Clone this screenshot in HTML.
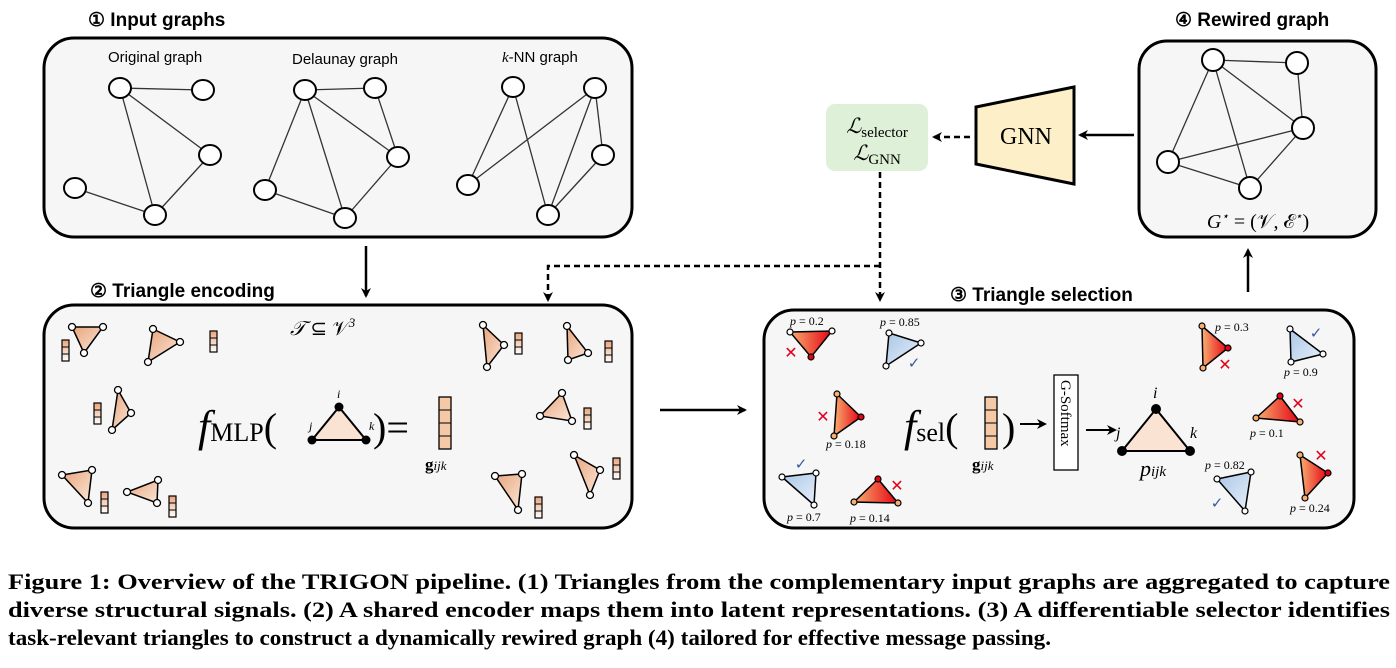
<!DOCTYPE html>
<html><head><meta charset="utf-8"><style>
body{margin:0;background:#fff;width:1396px;height:668px;overflow:hidden}
svg{display:block}
.t{font-family:"Liberation Sans",sans-serif;font-weight:bold;font-size:19px}
.s{font-family:"Liberation Sans",sans-serif;font-size:15px}
.m{font-family:"Liberation Serif",serif}
.cap{font-family:"Liberation Serif",serif;font-weight:bold;font-size:22px}
</style></head><body>
<svg width="1396" height="668" viewBox="0 0 1396 668" xmlns="http://www.w3.org/2000/svg">
<defs>
<linearGradient id="og" x1="0" y1="0" x2="1" y2="1"><stop offset="0" stop-color="#e8a57c"/><stop offset="1" stop-color="#fbe6d8"/></linearGradient>
<linearGradient id="rg" x1="0" y1="0" x2="1" y2="0"><stop offset="0" stop-color="#f7b070"/><stop offset="1" stop-color="#e60012"/></linearGradient>
<linearGradient id="bg" x1="0" y1="0" x2="1" y2="1"><stop offset="0" stop-color="#a9c6e6"/><stop offset="1" stop-color="#e8f0fa"/></linearGradient>
<linearGradient id="barg" x1="0" y1="0" x2="0" y2="1"><stop offset="0" stop-color="#e9a47a"/><stop offset="1" stop-color="#fff"/></linearGradient>
<marker id="ar" markerWidth="10" markerHeight="10" refX="8" refY="5" orient="auto" markerUnits="userSpaceOnUse"><path d="M0,0 L10,5 L0,10 L3,5z" fill="#000"/></marker>
<g id="bar"><rect x="0" y="0" width="7" height="21" fill="url(#barg)" stroke="#000" stroke-width="1.2"/><path d="M0,7 H7 M0,14 H7" stroke="#000" stroke-width="1"/></g>
</defs>
<!-- titles -->
<text x="88" y="26" class="t">① Input graphs</text>
<text x="90" y="297" class="t">② Triangle encoding</text>
<text x="950" y="301" class="t">③ Triangle selection</text>
<text x="1175" y="26" class="t">④ Rewired graph</text>
<!-- boxes -->
<rect x="44" y="38" width="588" height="199" rx="30" fill="#f6f6f6" stroke="#000" stroke-width="3"/>
<rect x="44" y="305" width="588" height="223" rx="30" fill="#f6f6f6" stroke="#000" stroke-width="3"/>
<rect x="764" y="310" width="590" height="218" rx="30" fill="#f6f6f6" stroke="#000" stroke-width="3"/>
<rect x="1139" y="41" width="237" height="196" rx="28" fill="#f6f6f6" stroke="#000" stroke-width="3"/>
<!-- graph 1 -->
<text x="108" y="62" class="s">Original graph</text>
<text x="292" y="64" class="s">Delaunay graph</text>
<text x="502" y="62" class="s"><tspan class="m" font-style="italic">k</tspan>-NN graph</text>
<g stroke="#333" stroke-width="1.3">
<line x1="120" y1="88" x2="203" y2="90"/><line x1="120" y1="88" x2="155" y2="215"/><line x1="120" y1="88" x2="210" y2="155"/><line x1="210" y1="155" x2="155" y2="215"/><line x1="75" y1="188" x2="155" y2="215"/>
<line x1="305" y1="90" x2="375" y2="88"/><line x1="305" y1="90" x2="265" y2="190"/><line x1="305" y1="90" x2="345" y2="218"/><line x1="305" y1="90" x2="398" y2="157"/><line x1="375" y1="88" x2="398" y2="157"/><line x1="398" y1="157" x2="345" y2="218"/><line x1="265" y1="190" x2="345" y2="218"/>
<line x1="513" y1="87" x2="548" y2="215"/><line x1="513" y1="87" x2="468" y2="185"/><line x1="595" y1="88" x2="468" y2="185"/><line x1="595" y1="88" x2="548" y2="215"/><line x1="595" y1="88" x2="603" y2="155"/><line x1="603" y1="155" x2="548" y2="215"/>
<line x1="1213" y1="60" x2="1297" y2="63"/><line x1="1213" y1="60" x2="1168" y2="162"/><line x1="1213" y1="60" x2="1250" y2="188"/><line x1="1213" y1="60" x2="1303" y2="128"/><line x1="1297" y1="63" x2="1303" y2="128"/><line x1="1303" y1="128" x2="1168" y2="162"/><line x1="1303" y1="128" x2="1250" y2="188"/><line x1="1168" y1="162" x2="1250" y2="188"/>
</g>
<g fill="#fff" stroke="#000" stroke-width="2">
<ellipse cx="120" cy="88" rx="11" ry="10"/><ellipse cx="203" cy="90" rx="11" ry="10"/><ellipse cx="210" cy="155" rx="11" ry="10"/><ellipse cx="75" cy="188" rx="11" ry="10"/><ellipse cx="155" cy="215" rx="11" ry="10"/>
<ellipse cx="305" cy="90" rx="11" ry="10"/><ellipse cx="375" cy="88" rx="11" ry="10"/><ellipse cx="398" cy="157" rx="11" ry="10"/><ellipse cx="265" cy="190" rx="11" ry="10"/><ellipse cx="345" cy="218" rx="11" ry="10"/>
<ellipse cx="513" cy="87" rx="11" ry="10"/><ellipse cx="595" cy="88" rx="11" ry="10"/><ellipse cx="603" cy="155" rx="11" ry="10"/><ellipse cx="468" cy="185" rx="11" ry="10"/><ellipse cx="548" cy="215" rx="11" ry="10"/>
<ellipse cx="1213" cy="60" rx="11" ry="11"/><ellipse cx="1297" cy="63" rx="11" ry="11"/><ellipse cx="1303" cy="128" rx="11" ry="11"/><ellipse cx="1168" cy="162" rx="11" ry="11"/><ellipse cx="1250" cy="188" rx="11" ry="11"/>
</g>
<text x="1258" y="228" class="m" font-size="20" text-anchor="middle" font-style="italic">G<tspan font-size="12" dy="-8">⋆</tspan><tspan dy="8" font-style="normal"> = (𝒱, ℰ</tspan><tspan font-size="12" dy="-8">⋆</tspan><tspan dy="8" font-style="normal">)</tspan></text>
<!-- GNN & loss -->
<path d="M976,107 L1074,87 L1074,184 L976,164z" fill="#fdf0c8" stroke="#000" stroke-width="3"/>
<text x="1026" y="144" class="m" font-size="24" text-anchor="middle">GNN</text>
<rect x="826" y="104" width="102" height="67" rx="9" fill="#dff0d8"/>
<text x="877" y="133" class="m" font-size="21" text-anchor="middle"><tspan font-style="italic">ℒ</tspan><tspan font-size="15" dy="4">selector</tspan></text>
<text x="877" y="160" class="m" font-size="21" text-anchor="middle"><tspan font-style="italic">ℒ</tspan><tspan font-size="15" dy="4">GNN</tspan></text>
<!-- arrows -->
<g stroke="#000" stroke-width="2.5" fill="none">
<line x1="1134" y1="135" x2="1080" y2="135" marker-end="url(#ar)"/>
<line x1="970" y1="137" x2="934" y2="137" stroke-dasharray="6,4" marker-end="url(#ar)"/>
<path d="M880,172 L880,300" stroke-dasharray="6,4" marker-end="url(#ar)"/>
<path d="M880,266 L548,266 L548,300" stroke-dasharray="6,4" marker-end="url(#ar)"/>
<line x1="366" y1="246" x2="366" y2="296" marker-end="url(#ar)"/>
<line x1="660" y1="410" x2="745" y2="410" marker-end="url(#ar)"/>
<line x1="1248" y1="292" x2="1248" y2="250" marker-end="url(#ar)"/>
<line x1="1020" y1="424" x2="1045" y2="424" marker-end="url(#ar)" stroke-width="2"/>
<line x1="1086" y1="430" x2="1115" y2="430" marker-end="url(#ar)" stroke-width="2"/>
</g>
<!-- encoding box content -->
<text x="290" y="335" class="m" font-size="20" font-style="italic">𝒯 <tspan font-style="normal">⊆ 𝒱</tspan><tspan font-size="13" dy="-8">3</tspan></text>
<g stroke="#000" stroke-width="1.5" fill="url(#og)">
<path d="M72,327 L103,327 L84,353z"/><path d="M153,329 L180,342 L148,362z"/><path d="M118,390 L131,413 L112,430z"/>
<path d="M62,475 L92,470 L88,503z"/><path d="M127,492 L158,480 L157,503z"/><path d="M483,325 L504,345 L487,367z"/>
<path d="M567,326 L588,353 L568,360z"/><path d="M562,393 L540,416 L572,421z"/><path d="M574,455 L600,470 L590,495z"/>
<path d="M495,476 L522,474 L518,510z"/>
</g>
<g fill="#fff" stroke="#000" stroke-width="1.3">
<circle cx="72" cy="327" r="3.5"/><circle cx="103" cy="327" r="3.5"/><circle cx="84" cy="353" r="3.5"/><circle cx="153" cy="329" r="3.5"/><circle cx="180" cy="342" r="3.5"/><circle cx="148" cy="362" r="3.5"/>
<circle cx="118" cy="390" r="3.5"/><circle cx="131" cy="413" r="3.5"/><circle cx="112" cy="430" r="3.5"/><circle cx="62" cy="475" r="3.5"/><circle cx="92" cy="470" r="3.5"/><circle cx="88" cy="503" r="3.5"/>
<circle cx="127" cy="492" r="3.5"/><circle cx="158" cy="480" r="3.5"/><circle cx="157" cy="503" r="3.5"/><circle cx="483" cy="325" r="3.5"/><circle cx="504" cy="345" r="3.5"/><circle cx="487" cy="367" r="3.5"/>
<circle cx="567" cy="326" r="3.5"/><circle cx="588" cy="353" r="3.5"/><circle cx="568" cy="360" r="3.5"/><circle cx="562" cy="393" r="3.5"/><circle cx="540" cy="416" r="3.5"/><circle cx="572" cy="421" r="3.5"/>
<circle cx="574" cy="455" r="3.5"/><circle cx="600" cy="470" r="3.5"/><circle cx="590" cy="495" r="3.5"/><circle cx="495" cy="476" r="3.5"/><circle cx="522" cy="474" r="3.5"/><circle cx="518" cy="510" r="3.5"/>
</g>
<use href="#bar" x="62" y="340"/><use href="#bar" x="210" y="331"/><use href="#bar" x="94" y="403"/>
<use href="#bar" x="101" y="492"/><use href="#bar" x="169" y="496"/><use href="#bar" x="515" y="333"/>
<use href="#bar" x="605" y="341"/><use href="#bar" x="584" y="408"/><use href="#bar" x="613" y="458"/><use href="#bar" x="535" y="497"/>
<text x="198" y="441" class="m" font-size="44" font-style="italic">f<tspan font-style="normal" font-size="26">MLP</tspan><tspan font-style="normal" font-size="40">(</tspan></text>
<path d="M339,407 L312,440 L366,440z" fill="#fbe3d3" stroke="#000" stroke-width="2"/>
<circle cx="339" cy="407" r="4.5"/><circle cx="312" cy="440" r="4.5"/><circle cx="366" cy="440" r="4.5"/>
<text x="337" y="398" class="m" font-size="12" font-style="italic">i</text><text x="309" y="430" class="m" font-size="12" font-style="italic">j</text><text x="369" y="430" class="m" font-size="12" font-style="italic">k</text>
<text x="373" y="441" class="m" font-size="40">)=</text>
<rect x="439" y="397" width="12" height="52" fill="#f5c8a6" stroke="#000" stroke-width="1.3"/>
<path d="M439,410 H451 M439,423 H451 M439,436 H451" stroke="#000"/>
<text x="425" y="470" class="m" font-size="17" font-weight="bold">g<tspan font-size="13" font-style="italic" font-weight="normal">ijk</tspan></text>
<!-- selection box content -->
<g stroke="#000" stroke-width="1.5">
<path d="M790,332 L832,331 L811,357z" fill="url(#rg)"/>
<path d="M889,333 L921,343 L886,366z" fill="url(#bg)"/>
<path d="M837,394 L861,417 L834,436z" fill="url(#rg)"/>
<path d="M782,477 L816,473 L814,505z" fill="url(#bg)"/>
<path d="M878,479 L898,503 L854,502z" fill="url(#rg)"/>
<path d="M1202,326 L1228,348 L1203,368z" fill="url(#rg)"/>
<path d="M1290,329 L1323,354 L1291,362z" fill="url(#bg)"/>
<path d="M1280,396 L1256,418 L1300,422z" fill="url(#rg)"/>
<path d="M1217,479 L1251,472 L1245,511z" fill="url(#bg)"/>
<path d="M1300,455 L1328,473 L1305,498z" fill="url(#rg)"/>
</g>
<g fill="#fff" stroke="#000" stroke-width="1.2">
<circle cx="790" cy="332" r="3"/><circle cx="832" cy="331" r="3"/><circle cx="811" cy="357" r="3" fill="#e60012"/>
<circle cx="889" cy="333" r="3"/><circle cx="921" cy="343" r="3"/><circle cx="886" cy="366" r="3"/>
<circle cx="837" cy="394" r="3" fill="#f7b070"/><circle cx="861" cy="417" r="3" fill="#e60012"/><circle cx="834" cy="436" r="3" fill="#f7b070"/>
<circle cx="782" cy="477" r="3"/><circle cx="816" cy="473" r="3"/><circle cx="814" cy="505" r="3"/>
<circle cx="878" cy="479" r="3" fill="#e60012"/><circle cx="898" cy="503" r="3" fill="#f7b070"/><circle cx="854" cy="502" r="3" fill="#f7b070"/>
<circle cx="1202" cy="326" r="3" fill="#f7b070"/><circle cx="1228" cy="348" r="3" fill="#e60012"/><circle cx="1203" cy="368" r="3" fill="#f7b070"/>
<circle cx="1290" cy="329" r="3"/><circle cx="1323" cy="354" r="3"/><circle cx="1291" cy="362" r="3"/>
<circle cx="1280" cy="396" r="3" fill="#e60012"/><circle cx="1256" cy="418" r="3" fill="#f7b070"/><circle cx="1300" cy="422" r="3" fill="#f7b070"/>
<circle cx="1217" cy="479" r="3"/><circle cx="1251" cy="472" r="3"/><circle cx="1245" cy="511" r="3"/>
<circle cx="1300" cy="455" r="3" fill="#f7b070"/><circle cx="1328" cy="473" r="3" fill="#e60012"/><circle cx="1305" cy="498" r="3" fill="#f7b070"/>
</g>
<g font-family="Liberation Serif,serif" font-size="12">
<text x="790" y="325"><tspan font-style="italic">p</tspan> = 0.2</text><text x="880" y="326"><tspan font-style="italic">p</tspan> = 0.85</text>
<text x="826" y="448"><tspan font-style="italic">p</tspan> = 0.18</text><text x="787" y="521"><tspan font-style="italic">p</tspan> = 0.7</text>
<text x="850" y="522"><tspan font-style="italic">p</tspan> = 0.14</text><text x="1215" y="331"><tspan font-style="italic">p</tspan> = 0.3</text>
<text x="1284" y="376"><tspan font-style="italic">p</tspan> = 0.9</text><text x="1250" y="437"><tspan font-style="italic">p</tspan> = 0.1</text>
<text x="1205" y="469"><tspan font-style="italic">p</tspan> = 0.82</text><text x="1290" y="512"><tspan font-style="italic">p</tspan> = 0.24</text>
</g>
<g fill="#e0001a" font-family="DejaVu Sans,sans-serif" font-size="16" font-weight="bold" text-anchor="middle">
<text x="791" y="358">✕</text><text x="823" y="422">✕</text><text x="897" y="491">✕</text><text x="1225" y="370">✕</text><text x="1298" y="409">✕</text><text x="1321" y="461">✕</text>
</g>
<g fill="#3a5a9a" font-family="DejaVu Sans,sans-serif" font-size="15" text-anchor="middle">
<text x="914" y="368">✓</text><text x="801" y="469">✓</text><text x="1316" y="338">✓</text><text x="1217" y="508">✓</text>
</g>
<text x="904" y="441" class="m" font-size="44" font-style="italic">f<tspan font-style="normal" font-size="26">sel</tspan><tspan font-style="normal" font-size="40">(</tspan></text>
<rect x="985" y="397" width="12" height="52" fill="#f5c8a6" stroke="#000" stroke-width="1.3"/>
<path d="M985,410 H997 M985,423 H997 M985,436 H997" stroke="#000"/>
<text x="1002" y="441" class="m" font-size="40">)</text>
<text x="972" y="470" class="m" font-size="17" font-weight="bold">g<tspan font-size="13" font-style="italic" font-weight="normal">ijk</tspan></text>
<rect x="1054" y="375" width="24" height="95" fill="#fff" stroke="#000" stroke-width="1.3"/>
<text transform="translate(1061,380) rotate(90)" class="m" font-size="15">G-Softmax</text>
<path d="M1156,409 L1122,451 L1190,451z" fill="#fbe3d3" stroke="#000" stroke-width="2"/>
<circle cx="1156" cy="409" r="5"/><circle cx="1122" cy="451" r="5"/><circle cx="1190" cy="451" r="5"/>
<text x="1153" y="398" class="m" font-size="16" font-style="italic">i</text><text x="1116" y="438" class="m" font-size="16" font-style="italic">j</text><text x="1190" y="438" class="m" font-size="16" font-style="italic">k</text>
<text x="1140" y="476" class="m" font-size="22" font-style="italic">p<tspan font-size="15">ijk</tspan></text>
<!-- caption -->
<text x="8" y="589" class="cap" textLength="1382" lengthAdjust="spacingAndGlyphs">Figure 1: Overview of the TRIGON pipeline. (1) Triangles from the complementary input graphs are aggregated to capture</text>
<text x="8" y="617" class="cap" textLength="1382" lengthAdjust="spacingAndGlyphs">diverse structural signals. (2) A shared encoder maps them into latent representations. (3) A differentiable selector identifies</text>
<text x="8" y="645" class="cap" textLength="1043" lengthAdjust="spacingAndGlyphs">task-relevant triangles to construct a dynamically rewired graph (4) tailored for effective message passing.</text>
</svg>
</body></html>
